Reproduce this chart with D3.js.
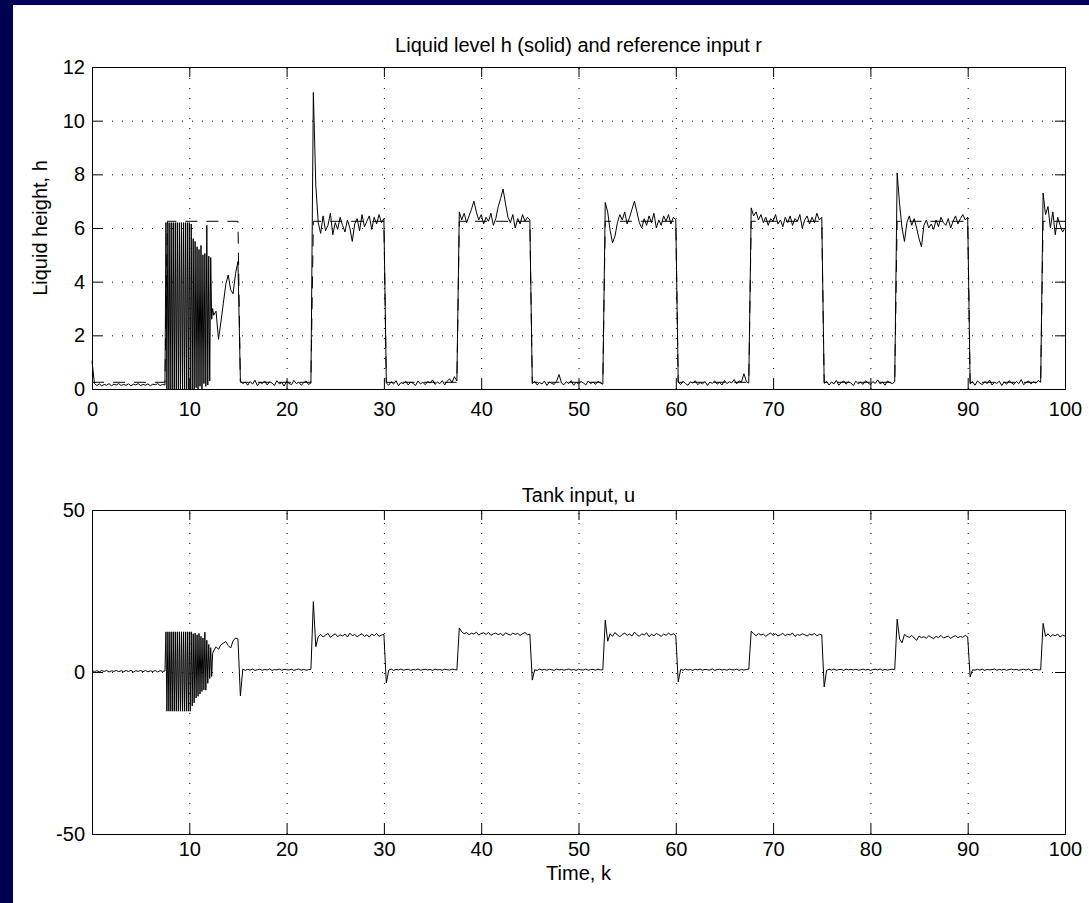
<!DOCTYPE html>
<html>
<head>
<meta charset="utf-8">
<script src="https://cdn.jsdelivr.net/npm/d3@7"></script>
<style>
  body { margin: 0; background: #000050; }
  svg { display: block; }
  text { font-family: "Liberation Sans", Arial, Helvetica, sans-serif; fill: #000; }
</style>
</head>
<body>
<svg id="chart" width="1089" height="903"></svg>
<script>
// sampling: coarse samples every 0.25, a finer burst (every 0.1) from k=7.5 to 12.4
var coarseStep = 0.25;
var burstStart = 7.5, burstStep = 0.1;
var afterStart = 12.5;

// liquid level h
var hBefore = [1.05, 0.2, 0.13, 0.19, 0.12, 0.17, 0.14, 0.2, 0.12, 0.18, 0.15, 0.2, 0.13, 0.17, 0.14,
    0.19, 0.12, 0.18, 0.15, 0.2, 0.13, 0.17, 0.14, 0.19, 0.12, 0.18, 0.16, 0.2, 0.13, 0.17];
var hBurst = [0.15, 6.2, 0, 6.2, 0, 6.2, 0, 6.2, 0, 6.2, 0, 6.2, 0, 6.2, 0, 6.2, 0, 6.2, 0, 6.2,
    0, 6.2, 0, 6.2, 0, 6.2, 0, 6.15, 0, 5.6, 0, 5.5, 0.05, 5.3, 0, 5.2, 0.1, 5.35, 0, 5.0,
    0.2, 5.05, 0.1, 6.1, 0.15, 4.95, 0.3, 4.9, 2.6, 3.0];
var hAfter = [
    2.75, 2.9, 1.85, 2.5, 3.2, 3.9, 4.25, 3.7, 3.55, 4.3, 4.75,
    0.3, 0.2, 0.26, 0.14, 0.28, 0.18, 0.33, 0.12, 0.25, 0.2, 0.3, 0.15, 0.27, 0.22, 0.13, 0.31, 0.19, 0.24, 0.11, 0.29, 0.21, 0.16, 0.32, 0.2, 0.26, 0.14, 0.23, 0.3, 0.17, 0.22,
    11.05, 7.6, 6.2, 5.8, 6.45, 5.9, 6.1, 6.55, 5.75, 6.2, 5.95, 6.4, 6.1, 5.85, 6.3, 6.0, 5.5, 6.15, 6.35, 5.9, 6.5, 6.05, 6.25, 6.45, 5.95, 6.4, 6.15, 6.5, 6.2, 6.35,
    0.22, 0.14, 0.27, 0.18, 0.31, 0.12, 0.24, 0.2, 0.29, 0.15, 0.26, 0.21, 0.13, 0.3, 0.19, 0.25, 0.16, 0.28, 0.22, 0.34, 0.17, 0.26, 0.2, 0.31, 0.15, 0.29, 0.38, 0.24, 0.46, 0.3,
    6.6, 6.3, 6.55, 6.2, 6.45, 6.7, 7.0, 6.6, 6.3, 6.5, 6.15, 6.4, 6.25, 6.55, 6.1, 6.35, 6.8, 7.1, 7.45, 6.9, 6.4, 6.2, 6.5, 6.0, 6.35, 6.15, 6.5, 6.25, 6.4, 6.3,
    0.2, 0.28, 0.15, 0.24, 0.19, 0.3, 0.13, 0.26, 0.21, 0.17, 0.29, 0.54, 0.22, 0.16, 0.27, 0.2, 0.31, 0.14, 0.25, 0.19, 0.28, 0.23, 0.15, 0.3, 0.2, 0.26, 0.17, 0.29, 0.22, 0.18,
    6.95, 6.6, 5.9, 5.45, 5.7, 6.2, 6.5, 6.3, 6.6, 6.15, 6.4, 6.7, 7.0, 6.6, 6.2, 6.0, 6.35, 6.1, 6.45, 6.2, 6.55, 6.0, 6.3, 6.1, 6.45, 6.25, 6.5, 6.15, 6.4, 6.3,
    0.25, 0.17, 0.29, 0.2, 0.14, 0.27, 0.22, 0.31, 0.16, 0.24, 0.19, 0.28, 0.13, 0.26, 0.21, 0.3, 0.18, 0.25, 0.15, 0.32, 0.2, 0.27, 0.23, 0.35, 0.19, 0.3, 0.26, 0.57, 0.28, 0.22,
    6.75, 6.45, 6.6, 6.3, 6.5, 6.2, 6.4, 6.1, 6.35, 6.25, 6.5, 6.15, 6.3, 6.05, 6.4, 6.2, 6.45, 6.1, 6.35, 6.25, 6.5, 6.0, 6.3, 6.45, 6.15, 6.4, 6.2, 6.55, 6.3, 6.4,
    0.21, 0.28, 0.15, 0.26, 0.19, 0.32, 0.14, 0.24, 0.3, 0.18, 0.27, 0.22, 0.13, 0.29, 0.2, 0.25, 0.17, 0.31, 0.23, 0.16, 0.28, 0.21, 0.34, 0.19, 0.26, 0.14, 0.3, 0.24, 0.2, 0.27,
    8.05, 6.9, 6.0, 5.5, 6.2, 6.45, 6.1, 6.35, 6.0, 5.6, 5.3, 6.1, 6.3, 6.0, 6.15, 5.95, 6.3, 6.05, 6.4, 6.2, 6.1, 6.35, 6.0, 6.25, 6.45, 6.15, 6.35, 6.5, 6.3, 6.4,
    0.19, 0.27, 0.14, 0.3, 0.22, 0.16, 0.28, 0.2, 0.33, 0.15, 0.25, 0.21, 0.29, 0.13, 0.26, 0.18, 0.31, 0.23, 0.17, 0.28, 0.2, 0.35, 0.16, 0.24, 0.3, 0.19, 0.27, 0.22, 0.32, 0.25,
    7.3, 6.5, 6.8, 6.0, 6.6, 5.75, 6.4, 6.1, 5.85, 6.0
];

// tank input u
var uBefore = [0.5, 0.1, 0.4, 0.05, 0.45, 0.15, 0.5, 0.0, 0.35, 0.2, 0.5, 0.1, 0.4, 0.05, 0.45,
    0.15, 0.5, 0.0, 0.4, 0.2, 0.45, 0.1, 0.5, 0.05, 0.35, 0.15, 0.45, 0.0, 0.4, 0.2];
var uBurst = [0.3, 12.4, -12.1, 12.4, -12.1, 12.4, -12.1, 12.4, -12.1, 12.4, -12.1, 12.4, -12.1, 12.4, -12.1,
    12.4, -12.1, 12.4, -12.1, 12.4, -12.1, 12.4, -12.1, 12.4, -12.1, 12.4, -12.1, 12.4, -10.5, 11.8,
    -9.5, 12.0, -8.0, 11.5, -7.5, 11.9, -6.8, 11.0, -6.0, 10.5, -5.5, 12.3, -5.6, 9.8, -3.5,
    8.5, -2.0, 7.5, -1.4, 5.8];
var uAfter = [
    6.5, 7.8, 7.0, 8.4, 8.9, 9.4, 8.2, 7.4, 9.6, 10.5, 10.2,
    -7.4, 0.9, 0.5, 0.8, 0.6, 0.9, 0.5, 0.7, 0.85, 0.55, 0.8, 0.6, 0.95, 0.5, 0.75, 0.65, 0.9, 0.55, 0.8, 0.7, 0.6, 0.85, 0.5, 0.75, 0.9, 0.6, 0.8, 0.55, 0.7, 0.85,
    21.7, 7.8, 10.9, 11.6, 10.8, 11.4, 11.9, 10.7, 11.3, 11.8, 10.9, 11.5, 11.1, 11.7, 10.8, 12.0, 11.2, 11.6, 10.9, 11.4, 11.8, 11.0, 11.5, 10.8, 11.7, 11.2, 11.9, 11.0, 11.4, 11.6,
    -3.4, 0.6, 0.9, 0.5, 0.8, 0.65, 0.9, 0.55, 0.75, 0.85, 0.5, 0.8, 0.6, 0.95, 0.55, 0.7, 0.85, 0.6, 0.8, 0.5, 0.9, 0.65, 0.75, 0.55, 0.85, 0.7, 0.6, 0.9, 0.75, 0.6,
    13.6, 12.4, 11.8, 12.2, 11.5, 12.0, 11.7, 12.3, 11.4, 11.9, 12.1, 11.6, 12.2, 11.3, 11.8, 12.0, 11.5, 11.9, 11.2, 12.1, 11.7, 11.4, 12.0, 11.6, 11.9, 11.3, 11.8, 12.2, 11.5, 11.7,
    -2.5, 0.7, 0.5, 0.9, 0.6, 0.8, 0.55, 0.85, 0.7, 0.5, 0.9, 0.65, 0.8, 0.55, 0.75, 0.9, 0.6, 0.8, 0.5, 0.85, 0.7, 0.6, 0.9, 0.55, 0.75, 0.8, 0.6, 0.85, 0.65, 0.7,
    16.0, 9.5, 11.8, 11.0, 12.2, 11.4, 10.9, 11.6, 12.0, 11.3, 11.7, 11.1, 12.3, 11.5, 11.0, 11.8, 11.4, 12.1, 10.9, 11.6, 11.2, 11.9, 11.5, 11.0, 11.7, 11.3, 12.0, 11.4, 11.8, 11.2,
    -3.0, 0.8, 0.55, 0.9, 0.6, 0.75, 0.5, 0.85, 0.65, 0.9, 0.55, 0.8, 0.7, 0.6, 0.95, 0.5, 0.75, 0.85, 0.6, 0.8, 0.55, 0.9, 0.7, 0.65, 0.85, 0.5, 0.8, 0.6, 0.75, 0.9,
    12.6, 11.8, 11.2, 11.9, 11.4, 11.7, 11.0, 11.6, 12.0, 11.3, 11.8, 11.1, 11.5, 11.9, 11.2, 11.7, 11.4, 12.0, 11.0, 11.6, 11.3, 11.8, 11.5, 11.1, 11.7, 11.4, 11.9, 11.2, 11.6, 11.5,
    -4.6, 0.5, 0.85, 0.6, 0.9, 0.55, 0.75, 0.8, 0.5, 0.9, 0.65, 0.8, 0.6, 0.85, 0.55, 0.7, 0.9, 0.6, 0.8, 0.5, 0.75, 0.85, 0.65, 0.9, 0.55, 0.8, 0.6, 0.75, 0.85, 0.7,
    16.3, 10.2, 9.0, 11.6, 11.0, 10.7, 11.3, 10.5, 9.8, 11.1, 10.6, 10.9, 10.4, 11.2, 10.7, 10.3, 11.0, 10.6, 11.3, 10.5, 10.8, 11.1, 10.4, 10.9, 11.2, 10.6, 11.0, 10.7, 11.3, 10.8,
    -1.5, 0.7, 0.55, 0.85, 0.6, 0.9, 0.5, 0.8, 0.65, 0.75, 0.9, 0.55, 0.8, 0.6, 0.85, 0.5, 0.75, 0.9, 0.65, 0.8, 0.55, 0.7, 0.85, 0.6, 0.9, 0.5, 0.75, 0.8, 0.65, 0.7,
    15.0, 11.0, 11.8, 10.9, 11.5, 11.2, 11.7, 10.8, 11.4, 11.1
];

// reference input r: level switches at these instants
var rSwitch = [7.5, 15, 22.5, 30, 37.5, 45, 52.5, 60, 67.5, 75, 82.5, 90, 97.5];
var rLow = 0.25, rHigh = 6.25;

var xTicksTop = [0, 10, 20, 30, 40, 50, 60, 70, 80, 90, 100];
var xTicksBottom = [10, 20, 30, 40, 50, 60, 70, 80, 90, 100];
var hTicks = [0, 2, 4, 6, 8, 10, 12];
var uTicks = [-50, 0, 50];

function toSeries(before, burst, after) {
    var pts = [];
    before.forEach(function(v, i) { pts.push({k: i * coarseStep, v: v}); });
    burst.forEach(function(v, i) { pts.push({k: burstStart + i * burstStep, v: v}); });
    after.forEach(function(v, i) { pts.push({k: afterStart + i * coarseStep, v: v}); });
    return pts;
}

// r is sampled like h, so each switch ramps over one sample interval
function refSeries() {
    var pts = [{k: 0, v: rLow}], level = rLow;
    rSwitch.forEach(function(k) {
        pts.push({k: k, v: level});
        level = level === rLow ? rHigh : rLow;
        pts.push({k: k + coarseStep, v: level});
    });
    pts.push({k: 100, v: level});
    return pts;
}

var hSeries = toSeries(hBefore, hBurst, hAfter);
var uSeries = toSeries(uBefore, uBurst, uAfter);
var rSeries = refSeries();

var svg = d3.select('#chart');
svg.append('rect').attr('x', 13).attr('y', 5).attr('width', 1076).attr('height', 898).attr('fill', '#fff');

var left = 92, right = 1065;
var x = d3.scaleLinear().domain([0, 100]).range([left, right]);
var fmt = function(d) { return String(d); };

function drawPanel(cfg) {
    var y = d3.scaleLinear().domain(cfg.ydom).range([cfg.bottom, cfg.top]);
    var g = svg.append('g');
    var h = cfg.bottom - cfg.top;

    // dotted grid
    g.append('g').attr('transform', 'translate(0,' + cfg.bottom + ')')
        .call(d3.axisBottom(x).tickValues(xTicksTop.slice(1, -1)).tickSize(-h).tickFormat(''))
        .call(function(a) { a.select('.domain').remove(); })
        .selectAll('line').attr('stroke', '#000').attr('stroke-dasharray', '1,9');
    g.append('g').attr('transform', 'translate(' + left + ',0)')
        .call(d3.axisLeft(y).tickValues(cfg.yticks.slice(1, -1)).tickSize(-(right - left)).tickFormat(''))
        .call(function(a) { a.select('.domain').remove(); })
        .selectAll('line').attr('stroke', '#000').attr('stroke-dasharray', '1,9');

    // curves
    var line = d3.line().x(function(d) { return x(d.k); }).y(function(d) { return y(d.v); });
    cfg.series.forEach(function(s) {
        g.append('path').datum(s.data)
            .attr('d', line)
            .attr('fill', 'none').attr('stroke', '#000').attr('stroke-width', 1)
            .attr('stroke-dasharray', s.dash || null);
    });

    // axes with inward ticks
    g.append('g').attr('transform', 'translate(0,' + cfg.bottom + ')')
        .call(d3.axisBottom(x).tickValues(cfg.xticks).tickSize(-10).tickPadding(cfg.xpad).tickFormat(fmt));
    g.append('g').attr('transform', 'translate(0,' + cfg.top + ')')
        .call(d3.axisTop(x).tickValues(cfg.xticks).tickSize(-10).tickFormat(''));
    g.append('g').attr('transform', 'translate(' + left + ',0)')
        .call(d3.axisLeft(y).tickValues(cfg.yticks).tickSize(-10).tickPadding(7).tickFormat(fmt));
    g.append('g').attr('transform', 'translate(' + right + ',0)')
        .call(d3.axisRight(y).tickValues(cfg.yticks).tickSize(-10).tickFormat(''));
    g.selectAll('.domain').remove();
    g.selectAll('.tick line').filter(function() { return !this.getAttribute('stroke-dasharray'); })
        .attr('stroke', '#000');
    g.selectAll('.tick text').attr('font-family', null).attr('font-size', null).style('font-size', '20px');

    g.append('rect').attr('x', left + 0.5).attr('y', cfg.top + 0.5)
        .attr('width', right - left).attr('height', h)
        .attr('fill', 'none').attr('stroke', '#000');

    g.append('text').attr('x', (left + right) / 2).attr('y', cfg.titleY)
        .attr('text-anchor', 'middle').style('font-size', '20px').text(cfg.title);
}

drawPanel({
    top: 67, bottom: 389, ydom: [0, 12], yticks: hTicks, xticks: xTicksTop, xpad: 13, titleY: 52,
    title: 'Liquid level h (solid) and reference input r',
    series: [{data: rSeries, dash: '12,9'}, {data: hSeries}]
});
drawPanel({
    top: 510, bottom: 834, ydom: [-50, 50], yticks: uTicks, xticks: xTicksBottom, xpad: 8, titleY: 502,
    title: 'Tank input, u',
    series: [{data: uSeries}]
});

svg.append('text').attr('x', 40).attr('y', 228).attr('transform', 'rotate(-90,40,228)')
    .attr('text-anchor', 'middle').attr('dy', '0.35em').style('font-size', '20px').text('Liquid height, h');
svg.append('text').attr('x', (left + right) / 2).attr('y', 880)
    .attr('text-anchor', 'middle').style('font-size', '20px').text('Time, k');
</script>
</body>
</html>
